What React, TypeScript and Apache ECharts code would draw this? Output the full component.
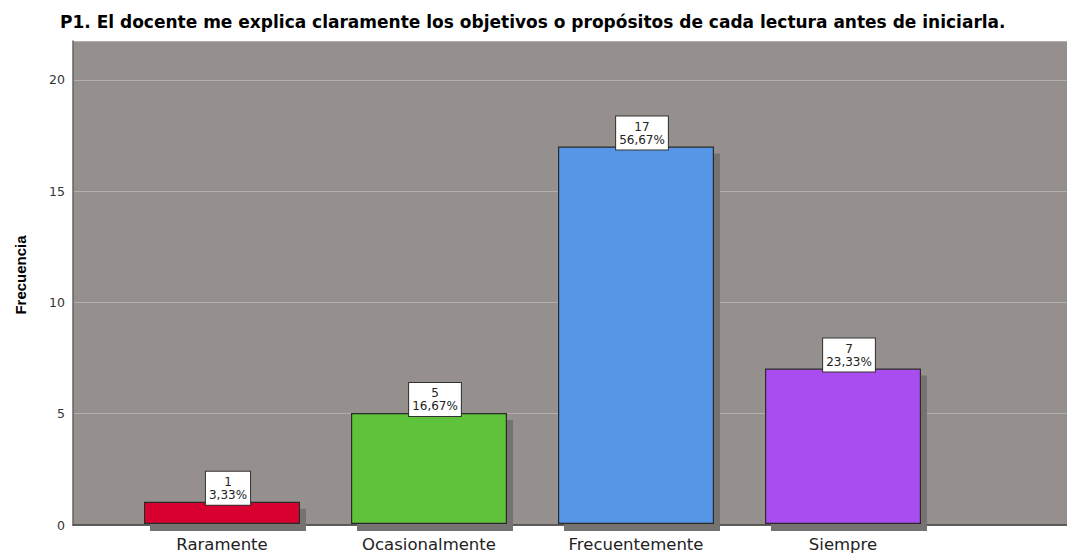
import React, { useEffect, useRef } from "react";
import * as echarts from "echarts";

const titleText = "P1. El docente me explica claramente los objetivos o propósitos de cada lectura antes de iniciarla.";
const yAxisName = "Frecuencia";
const categories = ["Raramente", "Ocasionalmente", "Frecuentemente", "Siempre"];
const counts = [1, 5, 17, 7];
const percents = ["3,33%", "16,67%", "56,67%", "23,33%"];
const barColors = ["#d8002e", "#5fc23a", "#5596e6", "#a94ef0"];
const yTicks = [0, 5, 10, 15, 20];

const FONT = "DejaVu Sans, Liberation Sans, Arial, sans-serif";

export default function App() {
  const ref = useRef<HTMLDivElement>(null);
  useEffect(() => {
    const chart = echarts.init(ref.current!, null, { renderer: "svg" });
    const yMax = 21.75;
    chart.setOption({
      animation: false,
      backgroundColor: "#ffffff",
      textStyle: { fontFamily: FONT },
      title: {
        text: titleText,
        left: 55,
        top: 8,
        textStyle: { fontSize: 17, fontWeight: "bold", color: "#000", fontFamily: FONT },
      },
      graphic: [
        {
          type: "text",
          x: 20,
          y: 275,
          rotation: Math.PI / 2,
          style: {
            text: yAxisName,
            font: "bold 15px Liberation Sans, Arial, sans-serif",
            fill: "#000",
            align: "center",
            verticalAlign: "middle",
          },
        },
      ],
      grid: [
        { left: 73, right: 0, top: 41, bottom: 28, show: true, backgroundColor: "#958f8e", borderWidth: 0 },
        { left: 118.5, width: 828, top: 41, bottom: 28 },
      ],
      xAxis: [
        {
          gridIndex: 0,
          type: "value",
          min: 0,
          max: 1,
          axisLine: { show: true, onZero: false, lineStyle: { color: "#444", width: 1.5 } },
          axisTick: { show: false },
          axisLabel: { show: false },
          splitLine: { show: false },
        },
        {
          gridIndex: 1,
          type: "category",
          data: categories,
          axisLine: { show: false },
          axisTick: { show: false },
          axisLabel: { fontSize: 16.5, color: "#222", margin: 12, fontFamily: FONT },
        },
      ],
      yAxis: [
        {
          gridIndex: 0,
          type: "value",
          min: 0,
          max: yMax,
          interval: 5,
          axisLine: { show: true, lineStyle: { color: "#666", width: 1.5 } },
          axisTick: { show: false },
          axisLabel: {
            color: "#333",
            fontSize: 12.5,
            margin: 8,
            fontFamily: FONT,
            formatter: (v: number) => (yTicks.includes(v) ? String(v) : ""),
          },
          splitLine: { show: true, lineStyle: { color: "#b3afad", width: 1 } },
        },
        {
          gridIndex: 1,
          type: "value",
          min: 0,
          max: yMax,
          interval: 5,
          show: false,
          splitLine: { show: false },
        },
      ],
      series: [
        {
          type: "bar",
          xAxisIndex: 1,
          yAxisIndex: 1,
          barWidth: 156,
          data: counts.map((v, i) => ({
            value: v,
            itemStyle: {
              color: barColors[i],
              borderColor: "#2a2a2a",
              borderWidth: 1.2,
              shadowColor: "#747272",
              shadowBlur: 0,
              shadowOffsetX: 6,
              shadowOffsetY: 7,
            },
          })),
          label: {
            show: true,
            position: "top",
            align: "center",
            offset: [6, 8],
            formatter: (p: any) => counts[p.dataIndex] + "\n" + percents[p.dataIndex],
            backgroundColor: "#ffffff",
            borderColor: "#333",
            borderWidth: 1,
            padding: [4, 3, 3, 3],
            color: "#222",
            fontSize: 12,
            lineHeight: 13,
            fontFamily: FONT,
          },
        },
      ],
    });
    return () => chart.dispose();
  }, []);
  return <div ref={ref} style={{ width: 1067, height: 553, position: "absolute", left: 0, top: 0 }} />;
}
